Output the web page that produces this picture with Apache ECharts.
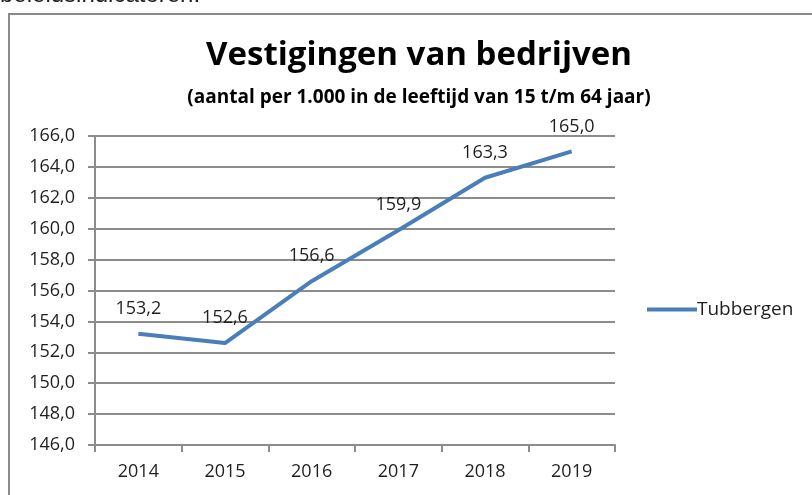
<!DOCTYPE html>
<html>
<head>
<meta charset="utf-8">
<script src="https://cdn.jsdelivr.net/npm/echarts@6/dist/echarts.min.js"></script>
<style>
  html, body { margin: 0; padding: 0; background: #fff; }
  #chart { width: 812px; height: 495px; }
</style>
</head>
<body>
<div id="chart"></div>
<script>
// data
const years = ['2014', '2015', '2016', '2017', '2018', '2019'];
const tubbergen = [153.2, 152.6, 156.6, 159.9, 163.3, 165.0];
const seriesName = 'Tubbergen';
const yMin = 146, yMax = 166, yStep = 2;

const fontFamily = '"Open Sans", "Liberation Sans", sans-serif';
const lineColor = '#4a7ebb';
const gridColor = '#8c8c8c';
const textColor = '#1f1f1f';

const nl = (v) => Number(v).toFixed(1).replace('.', ',');

const chart = echarts.init(document.getElementById('chart'), null, { renderer: 'canvas' });

chart.setOption({
  backgroundColor: '#fff',
  animation: false,
  textStyle: { fontFamily, color: textColor },
  title: [
    {
      text: 'Vestigingen van bedrijven',
      left: 414, top: 34, textAlign: 'center',
      textStyle: { fontFamily, fontWeight: 'bold', fontSize: 33, color: '#000' }
    },
    {
      text: '(aantal per 1.000 in de leeftijd van 15 t/m 64 jaar)',
      left: 414, top: 83, textAlign: 'center',
      textStyle: { fontFamily, fontWeight: 'bold', fontSize: 19, color: '#000' }
    }
  ],
  graphic: [
    {
      type: 'rect', silent: true,
      shape: { x: 9, y: 14, width: 830, height: 520 },
      style: { fill: 'none', stroke: '#8a8a8a', lineWidth: 2 }
    },
    {
      type: 'text', silent: true, left: 0, top: -17,
      style: { text: 'beleidsindicatoren.', font: '24px "Liberation Sans", sans-serif', fill: '#222' }
    }
  ],
  legend: {
    orient: 'vertical', left: 642, top: 295,
    icon: 'rect', itemWidth: 50, itemHeight: 4, itemGap: 0,
    textStyle: { fontFamily, fontSize: 19, color: textColor, padding: [0, 0, 0, -5] },
    data: [seriesName]
  },
  grid: { left: 95, right: 197, top: 136, bottom: 50, containLabel: false },
  xAxis: {
    type: 'category', data: years, boundaryGap: true,
    axisLine: { lineStyle: { color: gridColor, width: 2 } },
    axisTick: { show: true, length: 7, lineStyle: { color: gridColor, width: 2 } },
    axisLabel: { margin: 18, fontFamily, fontSize: 18, color: textColor }
  },
  yAxis: {
    type: 'value', min: yMin, max: yMax, interval: yStep,
    axisLine: { show: true, lineStyle: { color: gridColor, width: 2 } },
    axisTick: { show: true, length: 7, lineStyle: { color: gridColor, width: 2 } },
    axisLabel: { margin: 20, fontFamily, fontSize: 18, color: textColor, formatter: nl },
    splitLine: { show: true, lineStyle: { color: gridColor, width: 2 } }
  },
  series: [{
    name: seriesName, type: 'line', data: tubbergen,
    showSymbol: true, symbol: 'circle', symbolSize: 0,
    lineStyle: { color: lineColor, width: 4 },
    itemStyle: { color: lineColor },
    label: {
      show: true, position: 'top', distance: 16,
      fontFamily, fontSize: 18, color: textColor,
      formatter: (p) => nl(p.value)
    }
  }]
});
</script>
</body>
</html>
